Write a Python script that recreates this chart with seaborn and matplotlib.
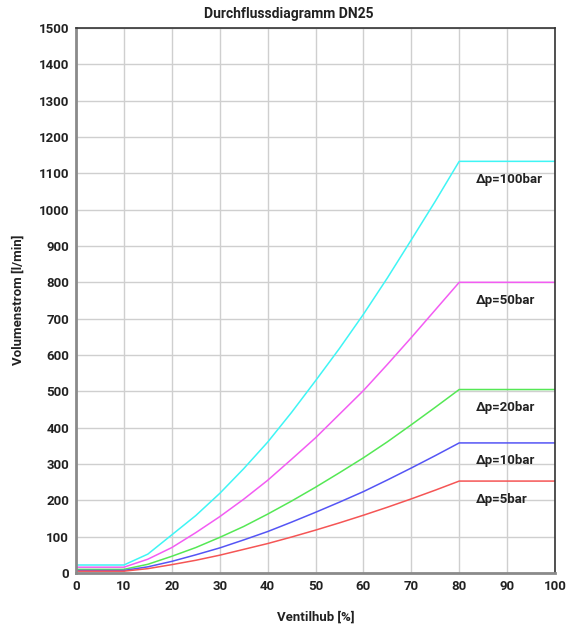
import matplotlib
matplotlib.use("Agg")
import matplotlib.pyplot as plt
import seaborn as sns
import pandas as pd

# Valve stroke [%] at which the flow was read
stroke = [0, 10, 15, 20, 25, 30, 35, 40, 45, 50, 55, 60, 65, 70, 75, 80, 100]

# Flow rate [l/min] per pressure drop
flow_100 = [22, 22, 52, 105, 158, 219, 287, 360, 442, 529, 618, 712, 812, 917, 1023, 1133, 1133]
flow_50 = [16, 16, 38, 70, 111, 155, 203, 255, 313, 372, 437, 502, 574, 648, 724, 800, 800]
flow_20 = [10, 10, 24, 46, 70, 98, 128, 162, 198, 236, 276, 317, 361, 408, 456, 505, 505]
flow_10 = [7, 7, 17, 32, 50, 69, 91, 114, 140, 167, 195, 224, 256, 289, 323, 358, 358]
flow_5 = [5, 5, 12, 23, 35, 49, 65, 81, 99, 118, 138, 159, 181, 204, 228, 253, 253]

series_names = ["Δp=100bar", "Δp=50bar", "Δp=20bar", "Δp=10bar", "Δp=5bar"]
series_values = [flow_100, flow_50, flow_20, flow_10, flow_5]
series_colors = ["#3ff5f5", "#f35cf3", "#55e855", "#5555f5", "#f55555"]

rows = []
for name, vals in zip(series_names, series_values):
    for x, y in zip(stroke, vals):
        rows.append({"Ventilhub": x, "Volumenstrom": y, "Kurve": name})
df = pd.DataFrame(rows)

sns.set_theme(style="white")
plt.rcParams["font.family"] = ["Roboto", "DejaVu Sans"]

TXT = "#222222"
FS = 9.5

fig = plt.figure(figsize=(5.68, 6.29), dpi=100)
ax = fig.add_axes([76 / 568, 1 - 573 / 629, (555 - 76) / 568, (573 - 28) / 629])

sns.lineplot(data=df, x="Ventilhub", y="Volumenstrom", hue="Kurve",
             palette=dict(zip(series_names, series_colors)), linewidth=1.1,
             legend=False, ax=ax)

ax.set_xlim(0, 100)
ax.set_ylim(0, 1500)
ax.set_xticks(range(0, 101, 10))
ax.set_yticks(range(0, 1501, 100))
ax.grid(True, color="#cfcfcf", linewidth=1.0)
ax.set_axisbelow(True)
ax.tick_params(length=0, pad=5, labelsize=FS, colors=TXT)
for lab in ax.get_xticklabels() + ax.get_yticklabels():
    lab.set_fontweight("bold")

for side in ["left", "bottom"]:
    ax.spines[side].set_color("#8a8a8a")
    ax.spines[side].set_linewidth(2.0)
for side in ["top", "right"]:
    ax.spines[side].set_color("#333333")
    ax.spines[side].set_linewidth(1.2)

ax.set_xlabel("")
ax.set_ylabel("")
fig.text(316 / 568, 1 - 617 / 629, "Ventilhub [%]", ha="center", va="center",
         fontsize=FS, fontweight="bold", color=TXT)
fig.text(18 / 568, 1 - 300 / 629, "Volumenstrom [l/min]", ha="center", va="center",
         rotation=90, fontsize=FS, fontweight="bold", color=TXT)
fig.text(289 / 568, 1 - 14 / 629, "Durchflussdiagramm DN25", ha="center", va="center",
         fontsize=10, fontweight="bold", color=TXT)

# Pressure-drop labels under the plateau of each curve
for name, vals in zip(series_names, series_values):
    ax.annotate(name, xy=(83.5, vals[-1]), xytext=(0, -13), textcoords="offset points",
                ha="left", va="center", fontsize=FS, fontweight="bold", color=TXT)

fig.savefig("out.png", dpi=100)
